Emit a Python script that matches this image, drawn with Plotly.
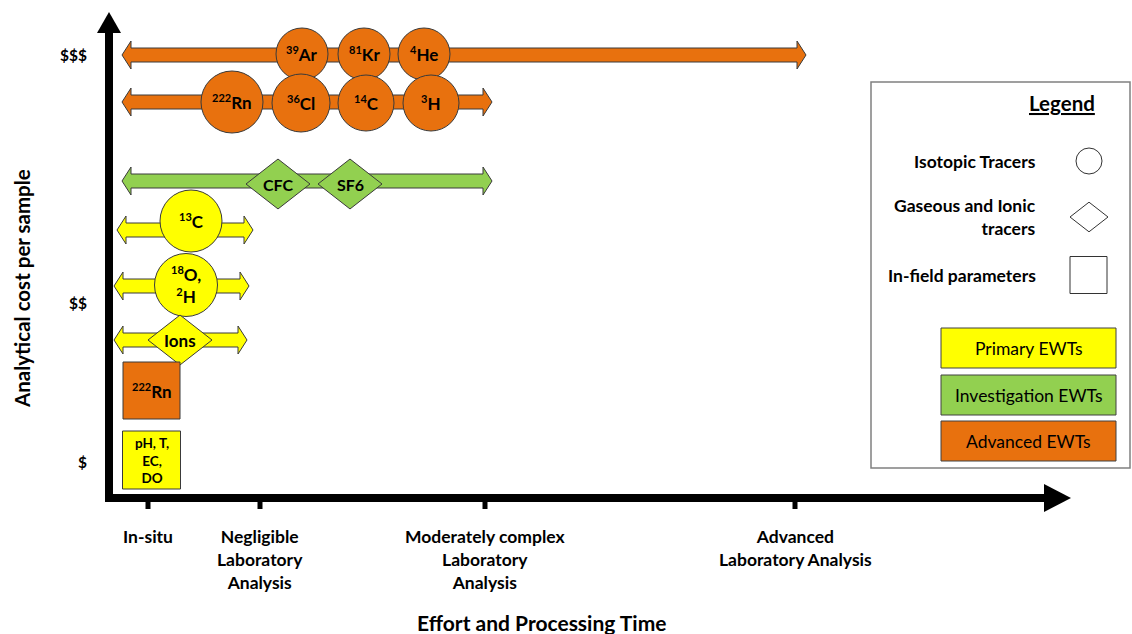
import plotly.graph_objects as go

# ---------------- data ----------------
# x-axis categories (effort) and y-axis categories (cost), in diagram units
x_ticks = [148, 260, 485, 795]
x_tick_labels = ["In-situ",
                 "Negligible<br>Laboratory<br>Analysis",
                 "Moderately complex<br>Laboratory<br>Analysis",
                 "Advanced<br>Laboratory Analysis"]
y_ticks = [55, 303, 462]
y_tick_labels = ["$$$", "$$", "$"]

# range arrows (applicability range along effort axis)
arrow_y = [55, 102, 181, 230, 286, 340]
arrow_x0 = [122, 122, 122, 117, 114, 114]
arrow_x1 = [806, 492, 492, 253, 249, 247]
arrow_cat = ["Advanced", "Advanced", "Investigation", "Primary", "Primary", "Primary"]

# tracers
tracer_sup = ["39", "81", "4", "222", "36", "14", "3", "", "", "13", "18", "", "222", ""]
tracer_main = ["Ar", "Kr", "He", "Rn", "Cl", "C", "H", "CFC", "SF6", "C", "O,", "Ions", "Rn",
               "pH, T,<br>EC,<br>DO"]
tracer_sup2 = ["", "", "", "", "", "", "", "", "", "", "2", "", "", ""]
tracer_main2 = ["", "", "", "", "", "", "", "", "", "", "H", "", "", ""]
tracer_x = [302, 364, 424, 232, 301, 366, 431, 278, 350, 191, 186, 180, 151.5, 151.5]
tracer_y = [54, 54, 54, 102, 103, 103, 103, 184, 184, 221, 285, 340, 390.5, 460]
tracer_size = [26, 26, 26, 31, 29, 28, 28, 32, 32, 31, 31.5, 32, 28.5, 29]
tracer_shape = ["circle"] * 7 + ["diamond"] * 2 + ["circle"] * 2 + ["diamond"] + ["square"] * 2
tracer_cat = ["Advanced"] * 7 + ["Investigation"] * 2 + ["Primary"] * 3 + ["Advanced", "Primary"]
tracer_font = [17] * 7 + [16, 16, 17, 17, 17, 17, 13.5]

# legend content
legend_shape_labels = ["Isotopic Tracers", "Gaseous and Ionic<br>tracers", "In-field parameters"]
legend_shapes = ["circle", "diamond", "square"]
legend_shape_y = [161, 217, 275]
legend_cat_labels = ["Primary EWTs", "Investigation EWTs", "Advanced EWTs"]
legend_cats = ["Primary", "Investigation", "Advanced"]
legend_cat_y = [348, 395, 441]

# ---------------- style ----------------
colors = {"Primary": "#FFFF00", "Investigation": "#92D050", "Advanced": "#E8710E"}
EDGE = "#3A3A3A"
FONT = "Lato"

shapes = []
annotations = []


def path_shape(pts, fill, line_color=EDGE, lw=1):
    d = "M " + " L ".join(f"{x},{y}" for x, y in pts) + " Z"
    return dict(type="path", path=d, xref="x", yref="y", fillcolor=fill,
                line=dict(color=line_color, width=lw))


def arrow_pts(x0, x1, y, L=9, h=7, H=14):
    return [(x0, y), (x0 + L, y - H), (x0 + L, y - h), (x1 - L, y - h), (x1 - L, y - H),
            (x1, y), (x1 - L, y + H), (x1 - L, y + h), (x0 + L, y + h), (x0 + L, y + H)]


def marker_shape(kind, cx, cy, r, fill, line_color=EDGE, lw=1):
    if kind == "circle":
        return dict(type="circle", xref="x", yref="y", x0=cx - r, x1=cx + r,
                    y0=cy - r, y1=cy + r, fillcolor=fill,
                    line=dict(color=line_color, width=lw))
    if kind == "diamond":
        hh = r * 0.78
        return path_shape([(cx - r, cy), (cx, cy - hh), (cx + r, cy), (cx, cy + hh)],
                          fill, line_color, lw)
    return dict(type="rect", xref="x", yref="y", x0=cx - r, x1=cx + r,
                y0=cy - r, y1=cy + r, fillcolor=fill,
                line=dict(color=line_color, width=lw))


def sup(s, fs):
    if not s:
        return ""
    return f"<sup><span style='font-size:{round(fs * 0.62)}px'>{s}</span></sup>"


# axes (black arrows)
AX_X = 109
AX_Y = 498
shapes.append(dict(type="rect", xref="x", yref="y", x0=AX_X - 4, x1=AX_X + 4,
                   y0=33, y1=AX_Y + 4, fillcolor="black", line=dict(width=0)))
shapes.append(path_shape([(AX_X - 12, 33), (AX_X + 12, 33), (AX_X, 12)], "black", "black", 0))
shapes.append(dict(type="rect", xref="x", yref="y", x0=AX_X - 4, x1=1044,
                   y0=AX_Y - 4, y1=AX_Y + 4, fillcolor="black", line=dict(width=0)))
shapes.append(path_shape([(1044, AX_Y - 14), (1044, AX_Y + 14), (1071, AX_Y)], "black", "black", 0))
for xt in x_ticks:
    shapes.append(dict(type="line", xref="x", yref="y", x0=xt, x1=xt, y0=AX_Y, y1=AX_Y + 11,
                       line=dict(color="black", width=5)))

# range arrows
for y, x0, x1, c in zip(arrow_y, arrow_x0, arrow_x1, arrow_cat):
    shapes.append(path_shape(arrow_pts(x0, x1, y), colors[c]))

# tracers
for s1, m1, s2, m2, x, y, r, kind, c, fs in zip(tracer_sup, tracer_main, tracer_sup2, tracer_main2,
                                                 tracer_x, tracer_y, tracer_size,
                                                 tracer_shape, tracer_cat, tracer_font):
    shapes.append(marker_shape(kind, x, y, r, colors[c]))
    lab = sup(s1, fs) + m1
    if m2:
        lab += "<br>" + sup(s2, fs) + m2
    annotations.append(dict(x=x, y=y, xref="x", yref="y", text=f"<b>{lab}</b>",
                            showarrow=False, font=dict(family=FONT, size=fs, color="black"),
                            xanchor="center", yanchor="middle", align="center"))

# tick labels
for xt, lab in zip(x_ticks, x_tick_labels):
    annotations.append(dict(x=xt, y=524, xref="x", yref="y", text=f"<b>{lab}</b>",
                            showarrow=False, font=dict(family=FONT, size=17.5, color="black"),
                            xanchor="center", yanchor="top", align="center"))
for yt, lab in zip(y_ticks, y_tick_labels):
    annotations.append(dict(x=89, y=yt, xref="x", yref="y", text=f"<b>{lab}</b>",
                            showarrow=False, font=dict(family=FONT, size=15.5, color="black"),
                            xanchor="right", yanchor="middle"))

# axis titles
annotations.append(dict(x=541, y=622, xref="x", yref="y", text="<b>Effort and Processing Time</b>",
                        showarrow=False, font=dict(family=FONT, size=21, color="black"),
                        xanchor="center", yanchor="middle"))
annotations.append(dict(x=22, y=289, xref="x", yref="y", text="<b>Analytical cost per sample</b>",
                        showarrow=False, textangle=-90,
                        font=dict(family=FONT, size=20.5, color="black"),
                        xanchor="center", yanchor="middle"))

# legend box
shapes.append(dict(type="rect", xref="x", yref="y", x0=871, x1=1130, y0=82, y1=468,
                   fillcolor="white", line=dict(color="#808080", width=1.5)))
annotations.append(dict(x=1062, y=103, xref="x", yref="y", text="<b><u>Legend</u></b>",
                        showarrow=False, font=dict(family=FONT, size=20.5, color="black"),
                        xanchor="center", yanchor="middle"))
legend_sizes = {"circle": 13, "diamond": 19, "square": 18.5}
legend_x = {"circle": 1089, "diamond": 1089, "square": 1088.5}
for lab, kind, y in zip(legend_shape_labels, legend_shapes, legend_shape_y):
    shapes.append(marker_shape(kind, legend_x[kind], y, legend_sizes[kind], "white", "#333333", 1))
    annotations.append(dict(x=1038, y=y, xref="x", yref="y", text=f"<b>{lab}</b>",
                            showarrow=False, font=dict(family=FONT, size=17.5, color="black"),
                            xanchor="right", yanchor="middle", align="right"))
for lab, c, y in zip(legend_cat_labels, legend_cats, legend_cat_y):
    shapes.append(dict(type="rect", xref="x", yref="y", x0=941, x1=1116, y0=y - 20, y1=y + 20,
                       fillcolor=colors[c], line=dict(color="#404040", width=1)))
    annotations.append(dict(x=1028.5, y=y, xref="x", yref="y", text=lab,
                            showarrow=False, font=dict(family=FONT, size=17.5, color="black"),
                            xanchor="center", yanchor="middle"))

fig = go.Figure()
fig.add_trace(go.Scatter(x=[], y=[], showlegend=False))
fig.update_layout(
    width=1132, height=634,
    margin=dict(l=0, r=0, t=0, b=0),
    paper_bgcolor="white", plot_bgcolor="white",
    xaxis=dict(range=[0, 1132], visible=False, fixedrange=True),
    yaxis=dict(range=[634, 0], visible=False, fixedrange=True),
    shapes=shapes, annotations=annotations, showlegend=False,
)
fig.write_html("out.html", config={"displayModeBar": False},
               post_script="document.body.style.margin='0';document.body.style.overflow='hidden';")
